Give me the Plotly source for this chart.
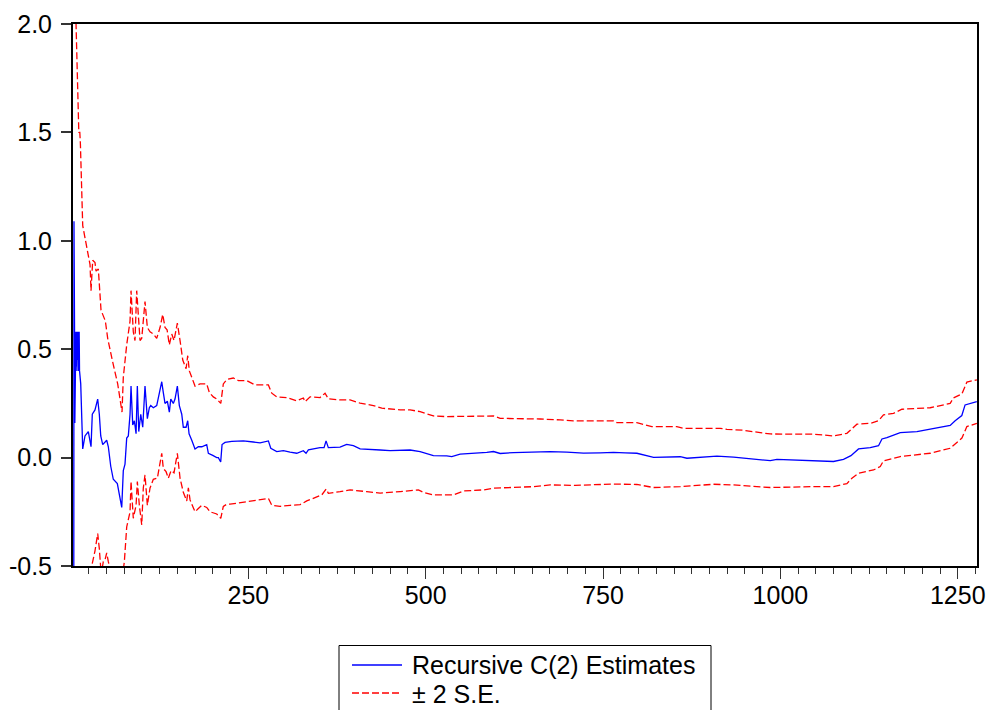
import plotly.graph_objects as go

# Recursive coefficient estimate C(2) by observation
obs_coef = [3.9, 4.2, 4.6, 5.0, 5.4, 5.9, 6.4, 6.9, 7.4, 7.9, 8.4, 8.9, 9.5, 10.2, 10.8, 11.5, 12.0,
            13.7, 16.5, 19.7, 24.4, 28.2, 30.0, 33.8, 37.6, 39.9, 41.9, 44.7, 47.9, 50.3, 52.6,
            56.0, 59.6, 65.3, 68.1, 71.5, 73.7, 76.1, 78.5, 80.8, 83.2, 84.6, 87.0, 89.3, 91.7,
            93.5, 95.5, 98.3, 101.1, 104.3, 107.6, 110.4, 112.4, 116.0, 120.8, 124.5, 127.9,
            130.1, 132.5, 135.8, 138.6, 140.6, 144.2, 146.6, 149.9, 152.7, 156.1, 158.3, 162.2,
            164.5, 166.4, 170.2, 174.8, 179.5, 184.3, 191.3, 193.6, 199.8, 205.4, 207.7, 211.0,
            212.9, 217.1, 226.6, 242.9, 257.0, 266.5, 278.2, 281.6, 290.0, 299.4, 308.8, 318.2,
            327.5, 331.3, 334.6, 341.6, 351.0, 356.7, 359.5, 362.7, 369.8, 379.2, 388.6, 398.0,
            407.5, 421.6, 435.7, 449.8, 463.9, 478.0, 492.1, 501.5, 510.8, 529.6, 536.7, 548.5,
            567.3, 586.1, 595.5, 604.9, 623.7, 651.9, 675.4, 698.9, 722.4, 746.0, 764.7, 781.3,
            797.7, 821.2, 858.8, 868.2, 887.0, 910.5, 934.0, 962.2, 985.7, 995.1, 1013.8, 1046.6,
            1074.8, 1088.9, 1099.4, 1110.1, 1126.6, 1138.3, 1143.1, 1150.1, 1161.8, 1168.9,
            1192.4, 1211.1, 1225.2, 1239.3, 1246.3, 1255.7, 1260.3, 1267.4, 1276.8]
coef = [-0.70, 1.09, 0.50, 0.58, 0.16, 0.58, 0.40, 0.58, 0.42, 0.58, 0.40, 0.58, 0.45, 0.58, 0.40, 0.58, 0.40,
        0.34, 0.04, 0.10, 0.12, 0.05, 0.20, 0.22, 0.27, 0.20, 0.10, 0.06, 0.07, 0.08, 0.05,
        -0.04, -0.10, -0.12, -0.17, -0.23, -0.06, -0.03, 0.09, 0.10, 0.20, 0.33, 0.15, 0.17, 0.11,
        0.33, 0.12, 0.20, 0.14, 0.33, 0.18, 0.23, 0.24, 0.23, 0.24, 0.29, 0.35,
        0.30, 0.25, 0.26, 0.21, 0.27, 0.25, 0.27, 0.33, 0.24, 0.20, 0.14, 0.14,
        0.17, 0.11, 0.08, 0.04, 0.05, 0.05, 0.06, 0.02, 0.01, 0.00, 0.00, -0.02,
        0.06, 0.07, 0.075, 0.077, 0.072, 0.068, 0.077, 0.043, 0.028, 0.032, 0.025, 0.020,
        0.032, 0.020, 0.036, 0.041, 0.046, 0.046, 0.077, 0.046, 0.048, 0.048, 0.061, 0.055,
        0.040, 0.039, 0.035, 0.032, 0.032, 0.035, 0.028, 0.019, 0.009, 0.008, 0.005, 0.016,
        0.019, 0.024, 0.028, 0.019, 0.023, 0.025, 0.028, 0.025, 0.021, 0.022, 0.024, 0.022,
        0.020, 0.001, 0.004, -0.003, 0.000, 0.007, 0.002, -0.006, -0.014, -0.008, -0.010, -0.012,
        -0.018, -0.008, 0.009, 0.040, 0.046, 0.055, 0.086, 0.092, 0.105, 0.115,
        0.120, 0.131, 0.140, 0.148, 0.170, 0.194, 0.243, 0.250, 0.258]

# Upper band: estimate + 2 S.E.
obs_upper = [6.3, 7.5, 8.0, 8.5, 9.0, 9.5, 11.0, 12.4, 13.2, 16.5, 18.3, 19.5, 22.1, 25.8, 26.8,
             28.2, 30.6, 33.8, 35.3, 38.5, 42.3, 48.4, 51.7, 58.8, 65.8, 69.1, 71.9, 73.7, 78.5,
             83.2, 84.6, 87.8, 90.2, 92.6, 94.9, 97.3, 99.7, 104.3, 107.6, 111.4, 116.0, 120.8,
             125.5, 129.3, 132.5, 135.4, 138.6, 142.0, 145.2, 149.9, 153.7, 157.5, 162.2, 164.5,
             166.8, 171.6, 174.8, 181.9, 191.3, 195.0, 200.6, 205.4, 211.1, 214.7, 219.5, 228.8,
             235.9, 247.7, 259.4, 278.2, 283.0, 290.0, 304.1, 318.2, 327.5, 329.9, 337.0, 351.1,
             358.1, 362.8, 379.3, 393.4, 407.5, 426.2, 438.1, 463.9, 478.0, 492.1, 510.8, 529.7,
             557.9, 595.4, 604.9, 633.1, 661.3, 689.5, 708.2, 745.9, 764.6, 769.4, 797.6, 818.7,
             854.0, 863.3, 915.0, 924.6, 948.0, 971.5, 985.6, 1046.6, 1074.8, 1093.7, 1107.8,
             1126.6, 1138.3, 1145.3, 1159.4, 1171.3, 1192.4, 1211.1, 1239.3, 1243.9, 1255.8,
             1262.8, 1276.9]
upper = [2.10, 1.96, 1.84, 1.90, 1.78, 1.76, 1.50, 1.50, 1.45, 1.07, 1.04, 1.02, 0.97, 0.91, 0.89,
         0.77, 0.91, 0.90, 0.86, 0.87, 0.68, 0.63, 0.55, 0.44, 0.34, 0.27, 0.21, 0.37, 0.52,
         0.63, 0.77, 0.58, 0.54, 0.77, 0.63, 0.54, 0.55, 0.72, 0.60, 0.58, 0.57, 0.55,
         0.60, 0.66, 0.60, 0.59, 0.52, 0.57, 0.54, 0.62, 0.54, 0.45, 0.41, 0.47,
         0.40, 0.36, 0.33, 0.34, 0.34, 0.30, 0.28, 0.27, 0.25, 0.34, 0.36, 0.367,
         0.355, 0.355, 0.335, 0.335, 0.297, 0.28, 0.277, 0.262, 0.275, 0.258, 0.28, 0.277,
         0.297, 0.271, 0.266, 0.266, 0.251, 0.240, 0.228, 0.220, 0.220, 0.212, 0.192, 0.189,
         0.189, 0.192, 0.181, 0.181, 0.178, 0.174, 0.169, 0.169, 0.169, 0.161, 0.161, 0.143,
         0.143, 0.135, 0.135, 0.130, 0.126, 0.115, 0.109, 0.108, 0.100, 0.112, 0.154,
         0.158, 0.170, 0.197, 0.204, 0.223, 0.225, 0.230, 0.250, 0.275, 0.294,
         0.348, 0.359]

# Lower band: estimate - 2 S.E.
obs_lower = [4.0, 10.0, 20.0, 27.0, 29.2, 33.8, 37.6, 39.9, 41.9, 43.5, 45.5, 48.0, 50.3, 52.6, 55.0,
             60.0, 66.0, 72.0, 75.2, 78.5, 83.2, 84.6, 87.8, 91.7, 93.5, 96.3, 99.7, 101.9, 104.3,
             107.6, 111.4, 116.0, 121.7, 125.5, 127.9, 130.1, 134.0, 137.2, 141.0, 145.2, 149.9,
             153.7, 158.3, 163.1, 165.4, 167.8, 174.8, 179.5, 184.3, 191.3, 196.0, 205.4, 211.1,
             214.7, 219.5, 224.2, 242.9, 257.0, 278.2, 283.0, 294.7, 308.8, 322.9, 332.3, 341.6,
             353.5, 359.6, 362.8, 379.3, 393.4, 416.9, 435.7, 463.9, 489.7, 496.7, 510.8, 539.0,
             553.1, 581.3, 595.4, 651.8, 675.4, 710.6, 745.9, 764.6, 797.6, 821.0, 858.7, 905.6,
             933.8, 962.0, 985.6, 1046.6, 1074.8, 1093.7, 1100.8, 1110.1, 1131.2, 1140.7, 1145.3,
             1168.9, 1192.4, 1211.1, 1239.3, 1255.8, 1262.8, 1276.9]
lower = [-1.50, -1.20, -0.75, -0.58, -0.50, -0.43, -0.35, -0.42, -0.51, -0.52, -0.48, -0.47, -0.44, -0.48, -0.51,
         -0.58, -0.62, -0.56, -0.48, -0.32, -0.25, -0.11, -0.28, -0.22, -0.11, -0.22, -0.31, -0.14, -0.08,
         -0.22, -0.14, -0.10, -0.095, -0.03, 0.02, -0.05, -0.065, -0.095, -0.06, -0.07, 0.02,
         -0.095, -0.16, -0.20, -0.14, -0.195, -0.25, -0.235, -0.22, -0.23, -0.25, -0.26, -0.28,
         -0.225, -0.215, -0.215, -0.205, -0.20, -0.188, -0.22, -0.225, -0.22, -0.217, -0.20, -0.188,
         -0.172, -0.145, -0.165, -0.157, -0.149, -0.157, -0.164, -0.157, -0.149, -0.160, -0.172, -0.172,
         -0.154, -0.149, -0.141, -0.134, -0.126, -0.128, -0.124, -0.122, -0.124, -0.138, -0.134, -0.123,
         -0.126, -0.134, -0.138, -0.134, -0.134, -0.120, -0.095, -0.072, -0.057, -0.041, -0.015,
         0.005, 0.012, 0.020, 0.043, 0.090, 0.143, 0.158]

series_names = ["Recursive C(2) Estimates", "\u00b1 2 S.E."]
y_ticks = [-0.5, 0.0, 0.5, 1.0, 1.5, 2.0]
y_tick_text = ["-0.5", "0.0", "0.5", "1.0", "1.5", "2.0"]
x_ticks = [250, 500, 750, 1000, 1250]

BLUE = "#0000FF"
RED = "#FF0000"
DASH = "7px,3px"
FONT = "Liberation Sans, Arial, sans-serif"
FSIZE = 25

W, H = 990, 710
ML, MR, MT, MB = 73, 13, 24, 144


def fx(px):
    """Horizontal pixel -> paper fraction."""
    return (px - ML) / (W - ML - MR)


def fy(py):
    """Vertical pixel -> paper fraction."""
    return (H - MB - py) / (H - MT - MB)


fig = go.Figure()
fig.add_trace(go.Scatter(x=obs_coef, y=coef, mode="lines", name=series_names[0],
                         line=dict(color=BLUE, width=1.3), showlegend=False))
fig.add_trace(go.Scatter(x=obs_upper, y=upper, mode="lines", name=series_names[1],
                         line=dict(color=RED, width=1.3, dash=DASH), showlegend=False))
fig.add_trace(go.Scatter(x=obs_lower, y=lower, mode="lines", name=series_names[1],
                         line=dict(color=RED, width=1.3, dash=DASH), showlegend=False))

axis_common = dict(showgrid=False, zeroline=False, showline=True, linecolor="black",
                   linewidth=2, mirror=True, ticks="outside", tickcolor="#333333",
                   automargin=False,
                   tickfont=dict(family=FONT, size=FSIZE, color="black"))

fig.update_xaxes(range=[2.8, 1277.1], tickvals=x_ticks, ticklen=11, tickwidth=1,
                 ticklabelstandoff=-5,
                 minor=dict(dtick=25, tick0=0, ticks="outside", ticklen=6,
                            tickcolor="#333333", tickwidth=1, showgrid=False),
                 **axis_common)
fig.update_yaxes(range=[-0.5, 2.0], tickvals=y_ticks, ticktext=y_tick_text, ticklen=10,
                 tickwidth=1.5, ticklabelstandoff=4, **axis_common)

# Legend box drawn below the plot area
shapes = [
    dict(type="rect", xref="paper", yref="paper", x0=fx(339), x1=fx(711), y0=fy(645.5), y1=fy(740),
         line=dict(color="black", width=1), fillcolor="white", layer="above"),
    dict(type="line", xref="paper", yref="paper", x0=fx(352), x1=fx(402), y0=fy(665), y1=fy(665),
         line=dict(color=BLUE, width=1.3)),
    dict(type="line", xref="paper", yref="paper", x0=fx(352), x1=fx(402), y0=fy(693), y1=fy(693),
         line=dict(color=RED, width=1.3, dash=DASH)),
]
annotations = [
    dict(text=series_names[0], xref="paper", yref="paper", x=fx(410), y=fy(664.5),
         xanchor="left", yanchor="middle", showarrow=False,
         font=dict(family=FONT, size=FSIZE, color="black")),
    dict(text=series_names[1], xref="paper", yref="paper", x=fx(410), y=fy(693.5),
         xanchor="left", yanchor="middle", showarrow=False,
         font=dict(family=FONT, size=FSIZE, color="black")),
]

fig.update_layout(width=W, height=H, margin=dict(l=ML, r=MR, t=MT, b=MB, pad=0, autoexpand=False),
                  paper_bgcolor="white", plot_bgcolor="white", showlegend=False,
                  shapes=shapes, annotations=annotations,
                  font=dict(family=FONT, size=FSIZE, color="black"))

fig.write_html("out.html")
